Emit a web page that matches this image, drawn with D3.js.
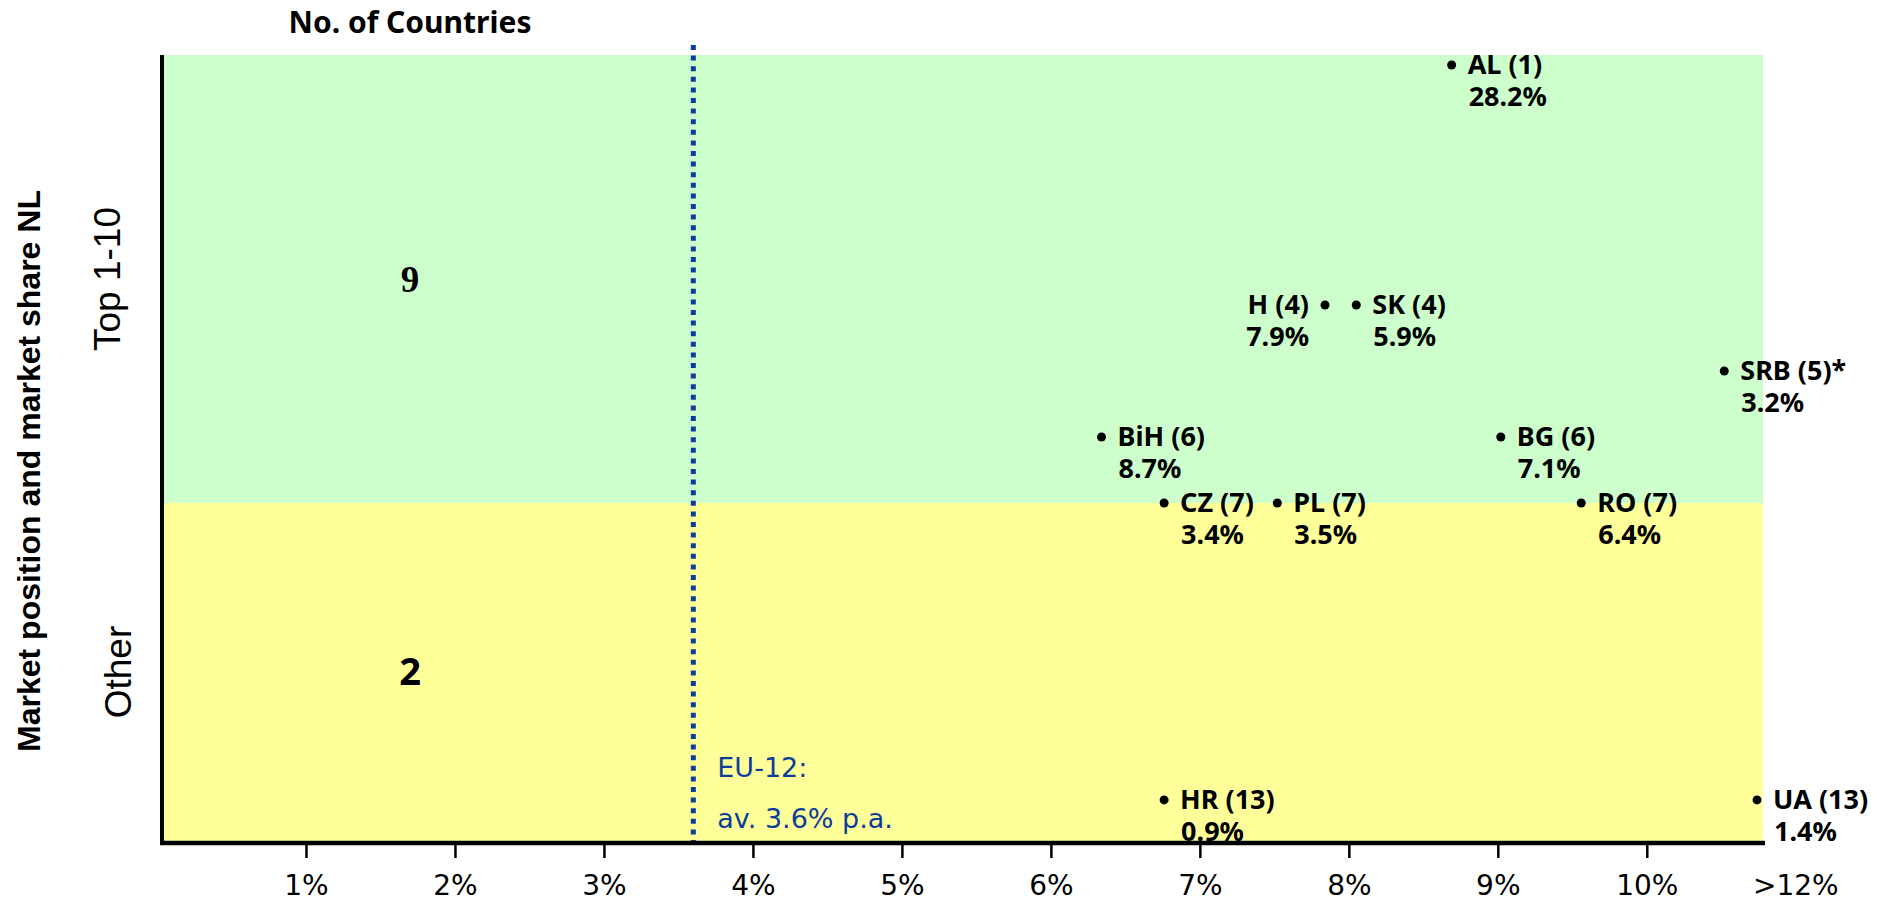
<!DOCTYPE html>
<html>
<head>
<meta charset="utf-8">
<script src="https://cdn.jsdelivr.net/npm/d3@7"></script>
<style>
  html, body { margin: 0; padding: 0; background: #ffffff; }
  svg { display: block; }
</style>
</head>
<body>
<svg id="chart" width="1883" height="901"></svg>
<script>
// ---- data ---------------------------------------------------------------
const countries   = ["AL", "H", "SK", "SRB", "BiH", "BG", "CZ", "PL", "RO", "HR", "UA"];
const ranks       = [1, 4, 4, 5, 6, 6, 7, 7, 7, 13, 13];          // market position NL
const growth      = [8.69, 7.84, 8.05, 10.52, 6.34, 9.02, 6.76, 7.52, 9.56, 6.76, 10.74]; // growth p.a., %
const shares      = [28.2, 7.9, 5.9, 3.2, 8.7, 7.1, 3.4, 3.5, 6.4, 0.9, 1.4]; // market share NL, %
const footnotes   = ["", "", "", "*", "", "", "", "", "", "", ""];

const zoneNames   = ["Top 1-10", "Other"];
const zoneMaxRank = [10, Infinity];

const tickValues  = [1, 2, 3, 4, 5, 6, 7, 8, 9, 10];
const tickLabels  = ["1%", "2%", "3%", "4%", "5%", "6%", "7%", "8%", "9%", "10%"];
const overflowTick = { value: 11, label: ">12%" };

const euAverage   = 3.6;
const euLabel     = ["EU-12:", "av. 3.6% p.a."];

// ---- layout -------------------------------------------------------------
const svg = d3.select("#chart");
const plotLeft = 162, plotTop = 55, plotBottom = 841;
const regular = "'DejaVu Sans', Verdana, sans-serif";
const arial = "'Liberation Sans', Arial, sans-serif";
const bold = "'Noto Sans', 'Open Sans', sans-serif";
const blue = "#0c3d9c";

const x = d3.scaleLinear().domain([0, 10.78]).range([157, 1763]);

// market position runs top (rank 1) to bottom; the upper ranks get more room
const y = d3.scaleLinear()
  .domain([0.875, 4, 7, 13.83])
  .range([plotTop, 305, 503, plotBottom]);

const rankSplit = 7;   // lowest plotted rank inside the Top 1-10 band
const rankMin = y.domain()[0], rankMax = y.domain()[3];

const points = countries.map((c, i) => ({
  name: c, rank: ranks[i], growth: growth[i], share: shares[i], note: footnotes[i]
}));

// ---- background bands ---------------------------------------------------
const bands = [
  { zone: 0, from: rankMin, to: rankSplit, fill: "#ccffcc" },
  { zone: 1, from: rankSplit, to: rankMax, fill: "#ffff99" }
];
svg.append("g").selectAll("rect").data(bands).join("rect")
  .attr("x", plotLeft)
  .attr("y", d => y(d.from))
  .attr("width", x.range()[1] - plotLeft)
  .attr("height", d => y(d.to) - y(d.from))
  .attr("fill", d => d.fill);

// ---- EU-12 average line -------------------------------------------------
svg.append("line")
  .attr("x1", x(euAverage)).attr("x2", x(euAverage))
  .attr("y1", plotTop - 10).attr("y2", plotBottom)
  .attr("stroke", blue).attr("stroke-width", 5)
  .attr("stroke-dasharray", "5 5.6");

const eu = svg.append("text")
  .attr("font-family", regular).attr("font-size", 27)
  .attr("fill", blue);
eu.selectAll("tspan").data(euLabel).join("tspan")
  .attr("x", x(euAverage) + 24)
  .attr("y", (d, i) => 777 + i * 51)
  .text(d => d);

// ---- zone labels and counts --------------------------------------------
const zoneMid = z => (y(bands[z].from) + y(bands[z].to)) / 2;

svg.append("g").selectAll("text").data(zoneNames).join("text")
  .attr("transform", (d, i) => `translate(${i === 0 ? 120 : 131},${zoneMid(i)}) rotate(-90)`)
  .attr("text-anchor", "middle")
  .attr("font-family", arial).attr("font-size", 37)
  .text(d => d);

const counts = zoneNames.map((z, i) =>
  points.filter(p => p.rank <= zoneMaxRank[i] && (i === 0 || p.rank > zoneMaxRank[i - 1])).length);

svg.append("g").selectAll("text").data(counts).join("text")
  .attr("x", 410)
  .attr("y", (d, i) => zoneMid(i) + 13)
  .attr("text-anchor", "middle")
  .attr("font-family", (d, i) => i === 0 ? "'Liberation Serif', 'Times New Roman', serif" : bold)
  .attr("font-weight", "bold")
  .attr("font-size", (d, i) => i === 0 ? 37 : 38)
  .text(d => d);

svg.append("text")
  .attr("x", 410).attr("y", 33)
  .attr("text-anchor", "middle")
  .attr("font-family", bold).attr("font-weight", "bold").attr("font-size", 30)
  .text("No. of Countries");

svg.append("text")
  .attr("transform", `translate(40,471) rotate(-90)`)
  .attr("text-anchor", "middle")
  .attr("font-family", arial).attr("font-weight", "bold").attr("font-size", 32)
  .text("Market position and market share NL");

// ---- country points -----------------------------------------------------
const leftLabelled = new Set(["H"]);
const pg = svg.append("g").selectAll("g").data(points).join("g")
  .attr("transform", d => `translate(${x(d.growth)},${y(d.rank)})`);

pg.append("circle").attr("r", 4.5).attr("fill", "#000");

// two-line label: "name (rank)" over the market share
const lbl = pg.append("text")
  .attr("text-anchor", d => leftLabelled.has(d.name) ? "end" : "start")
  .attr("font-family", bold).attr("font-weight", "bold").attr("font-size", 27);

lbl.append("tspan")
  .attr("x", d => leftLabelled.has(d.name) ? -16 : 16)
  .attr("y", 9)
  .text(d => `${d.name} (${d.rank})${d.note}`);

lbl.append("tspan")
  .attr("x", d => leftLabelled.has(d.name) ? -16 : 17)
  .attr("y", 41)
  .text(d => `${d.share.toFixed(1)}%`);

// ---- axes ---------------------------------------------------------------
const xAxis = d3.axisBottom(x)
  .tickValues(tickValues)
  .tickSize(15)
  .tickFormat((d, i) => tickLabels[i]);

const ax = svg.append("g")
  .attr("transform", `translate(0,${plotBottom + 2})`)
  .call(xAxis);
ax.select(".domain").remove();
ax.selectAll(".tick line").attr("stroke", "#000").attr("stroke-width", 2.5);
ax.selectAll(".tick text")
  .attr("y", 52).attr("dy", null)
  .attr("font-family", regular).attr("font-size", 28).attr("fill", "#000");

ax.append("text")
  .attr("x", x(overflowTick.value)).attr("y", 52)
  .attr("text-anchor", "middle")
  .attr("font-family", regular).attr("font-size", 28).attr("fill", "#000")
  .text(overflowTick.label);

// axis lines on top of the bands and labels
svg.append("line")
  .attr("x1", plotLeft - 2).attr("x2", x.range()[1] + 2)
  .attr("y1", plotBottom + 2).attr("y2", plotBottom + 2)
  .attr("stroke", "#000").attr("stroke-width", 4.5);
svg.append("line")
  .attr("x1", plotLeft).attr("x2", plotLeft)
  .attr("y1", plotTop).attr("y2", plotBottom + 4)
  .attr("stroke", "#000").attr("stroke-width", 4);
</script>
</body>
</html>
